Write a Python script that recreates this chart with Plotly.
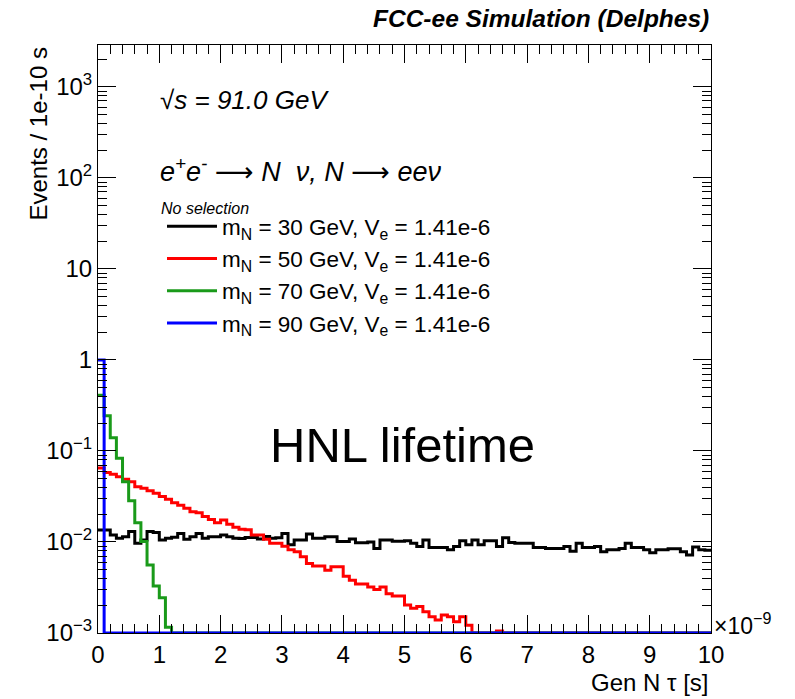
import numpy as np
import plotly.graph_objects as go

# ---------------- data ----------------
# 100 bins of 1e-10 s from 0 to 1e-8 s (axis shown in units of 1e-9 s)
n_bins = 100
x_min, x_max = 0.0, 10.0

labels = [
    "m<sub>N</sub> = 30 GeV, V<sub>e</sub> = 1.41e-6",
    "m<sub>N</sub> = 50 GeV, V<sub>e</sub> = 1.41e-6",
    "m<sub>N</sub> = 70 GeV, V<sub>e</sub> = 1.41e-6",
    "m<sub>N</sub> = 90 GeV, V<sub>e</sub> = 1.41e-6",
]
colors = ["#000000", "#ff0000", "#1a9a1a", "#0000ff"]

m30 = [0.0135, 0.0135, 0.0119, 0.0110, 0.0114, 0.0130, 0.0097, 0.0105, 0.0130, 0.0127,
       0.0105, 0.0110, 0.0113, 0.0124, 0.0107, 0.0114, 0.0124, 0.0110, 0.0114, 0.0114,
       0.0119, 0.0114, 0.0110, 0.0109, 0.0112, 0.0112, 0.0108, 0.0115, 0.0110, 0.0111,
       0.0124, 0.0093, 0.0105, 0.0105, 0.0122, 0.0110, 0.0110, 0.0114, 0.0114, 0.0101,
       0.0101, 0.0108, 0.0098, 0.0098, 0.0100, 0.0085, 0.0105, 0.0105, 0.0102, 0.0102,
       0.0103, 0.0097, 0.0089, 0.0105, 0.0087, 0.0087, 0.0087, 0.0082, 0.0089, 0.0103,
       0.0093, 0.0105, 0.0093, 0.0103, 0.0103, 0.0089, 0.0111, 0.0099, 0.0097, 0.0097,
       0.0097, 0.0087, 0.0087, 0.0085, 0.0085, 0.0085, 0.0089, 0.0079, 0.0097, 0.0087,
       0.0087, 0.0089, 0.0078, 0.0082, 0.0082, 0.0085, 0.0097, 0.0087, 0.0087, 0.0082,
       0.0076, 0.0082, 0.0082, 0.0084, 0.0084, 0.0078, 0.0072, 0.0088, 0.0082, 0.0081]

m50 = [0.065, 0.058, 0.0555, 0.052, 0.049, 0.046, 0.0405, 0.039, 0.0366, 0.0343,
       0.0315, 0.0295, 0.027, 0.0253, 0.0234, 0.0215, 0.021, 0.019, 0.0177, 0.0163,
       0.0174, 0.0157, 0.0145, 0.0138, 0.0136, 0.0119, 0.0119, 0.0107, 0.0097, 0.0097,
       0.0090, 0.0082, 0.0078, 0.0069, 0.0058, 0.00545, 0.00545, 0.0049, 0.00535, 0.00535,
       0.0042, 0.0038, 0.00345, 0.00345, 0.0032, 0.0030, 0.0032, 0.0027, 0.00255, 0.00255,
       0.00203, 0.00187, 0.00196, 0.00171, 0.00151, 0.00139, 0.00158, 0.00151, 0.00133, 0.00151,
       0.00122, 0.0, 0.0, 0.0, 0.0, 0.00105, 0.0, 0.0, 0.0, 0.0,
       0.0, 0.0, 0.0, 0.0, 0.0, 0.0, 0.0, 0.0, 0.0, 0.0,
       0.0, 0.0, 0.0, 0.0, 0.0, 0.0, 0.0, 0.0, 0.0, 0.0,
       0.0, 0.0, 0.0, 0.0, 0.0, 0.0, 0.0, 0.0, 0.0, 0.0]

m70 = [0.41, 0.243, 0.14, 0.083, 0.046, 0.0284, 0.0163, 0.0101, 0.00558, 0.00328,
       0.00244, 0.00116] + [0.0] * 88

m90 = [1.0] + [0.0] * 99

series = [m30, m50, m70, m90]

y_tick_vals = [1e-3, 1e-2, 1e-1, 1, 10, 100, 1000]
y_tick_text = ["10<sup>\u22123</sup>", "10<sup>\u22122</sup>", "10<sup>\u22121</sup>",
               "1", "10", "10<sup>2</sup>", "10<sup>3</sup>"]
x_tick_vals = list(range(0, 11))

y_floor = 1e-3
log_ymin, log_ymax = -3.0, 3.46

# ---------------- figure ----------------
FONT = "Liberation Sans, Arial, Helvetica, sans-serif"
W, H = 795, 699
ml, mr, mt, mb = 98, 84, 45, 66
pw, ph = W - ml - mr, H - mt - mb

def px(xpix):
    return (xpix - ml) / pw

def py(ypix):
    return (H - mb - ypix) / ph

edges = np.linspace(x_min, x_max, n_bins + 1)

fig = go.Figure()
for vals, lab, col in zip(series, labels, colors):
    yv = [v if v > 0 else y_floor for v in vals]
    yv = yv + [yv[-1]]
    fig.add_trace(go.Scatter(
        x=edges, y=yv, mode="lines", line=dict(color=col, width=3, shape="hv"),
        name=lab, showlegend=True, hoverinfo="skip"))

minor_y = [k * 10.0 ** e for e in range(-3, 4) for k in range(2, 10)]

fig.update_layout(
    width=W, height=H,
    margin=dict(l=ml, r=mr, t=mt, b=mb),
    paper_bgcolor="white", plot_bgcolor="white",
    font=dict(family=FONT, size=24, color="black"),
    showlegend=True,
    legend=dict(
        x=px(162), y=py(205), xanchor="left", yanchor="top",
        bgcolor="rgba(0,0,0,0)", borderwidth=0,
        font=dict(family=FONT, size=22.5, color="black"),
        itemwidth=50, tracegroupgap=0,
    ),
    xaxis=dict(
        range=[x_min, x_max], showgrid=False, zeroline=False,
        showline=True, linecolor="black", linewidth=1, mirror="allticks",
        ticks="inside", ticklen=18, tickwidth=1, tickcolor="black",
        tickmode="array", tickvals=x_tick_vals,
        ticktext=[str(v) for v in x_tick_vals],
        tickfont=dict(family=FONT, size=24),
        minor=dict(ticks="inside", ticklen=9, tickwidth=1, tickcolor="black", dtick=0.2, showgrid=False),
    ),
    yaxis=dict(
        type="log", range=[log_ymin, log_ymax], showgrid=False, zeroline=False,
        showline=True, linecolor="black", linewidth=1, mirror="allticks",
        ticks="inside", ticklen=18, tickwidth=1, tickcolor="black",
        tickmode="array", tickvals=y_tick_vals, ticktext=y_tick_text,
        tickfont=dict(family=FONT, size=24),
        minor=dict(ticks="inside", ticklen=9, tickwidth=1, tickcolor="black",
                   tickmode="array", tickvals=minor_y, showgrid=False),
    ),
)

NB = "\u00a0"
ARROW = "<span style='font-family:DejaVu Sans'>\u27f6</span>"
process = ("<i>e<sup>+</sup>e<sup>-</sup>" + NB + ARROW + NB + "N" + NB * 2 + "\u03bd," + NB
           + "N" + NB + ARROW + NB + "ee\u03bd</i>")
ann = [
    dict(text="<b><i>FCC-ee Simulation (Delphes)</i></b>", x=px(711), y=py(18),
         xanchor="right", yanchor="middle", font=dict(size=24.5)),
    dict(text="<i>\u221as = 91.0 GeV</i>", x=px(158), y=py(100),
         xanchor="left", yanchor="middle", font=dict(size=26)),
    dict(text=process, x=px(158), y=py(170), xanchor="left", yanchor="middle", font=dict(size=27)),
    dict(text="<i>No selection</i>", x=px(159), y=py(208),
         xanchor="left", yanchor="middle", font=dict(size=16)),
    dict(text="HNL lifetime", x=px(268), y=py(445),
         xanchor="left", yanchor="middle", font=dict(size=49)),
    dict(text="\u00d710<sup>\u22129</sup>", x=px(712), y=py(624),
         xanchor="left", yanchor="middle", font=dict(size=23)),
    dict(text="Gen N \u03c4 [s]", x=px(711), y=py(682),
         xanchor="right", yanchor="middle", font=dict(size=24)),
    dict(text="Events / 1e-10 s", x=px(38), y=py(46),
         xanchor="center", yanchor="top", textangle=-90, font=dict(size=24)),
]
for a in ann:
    a.update(xref="paper", yref="paper", showarrow=False)
    a["font"] = dict(family=FONT, color="black", **a["font"])
fig.update_layout(annotations=ann)

fig.write_html("out.html")
